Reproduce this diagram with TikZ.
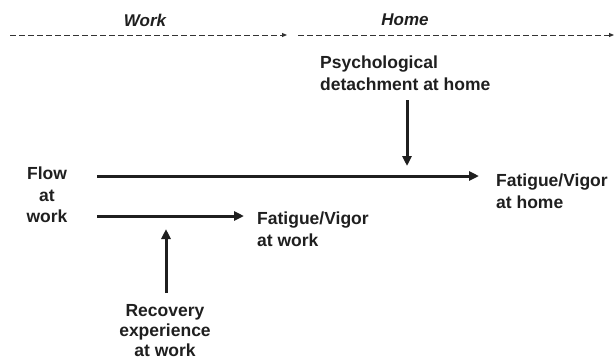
\documentclass[tikz,border=0pt]{standalone}
\usepackage{fontspec}
\setmainfont{Liberation Sans}
\usetikzlibrary{arrows.meta}
\begin{document}
\begin{tikzpicture}[x=1pt,y=-1pt,
  lbl/.style={font=\bfseries\fontsize{17.5}{21.5}\selectfont, inner sep=0pt, text=black!88},
  hdr/.style={font=\bfseries\itshape\fontsize{17}{19}\selectfont, inner sep=0pt, text=black!88},
  strong/.style={line width=3pt, draw=black!88, -{Triangle[length=10pt,width=9pt]}},
  dashline/.style={line width=1pt, draw=black!80, dash pattern=on 5.5pt off 3.5pt, -{Triangle[length=5pt,width=4pt]}}]
\useasboundingbox (0,0) rectangle (614,362);
% header
\node[hdr] (work) at (145,20) {Work};
\node[hdr] (home) at (405,20) {Home};
\coordinate (d1a) at (10,35);
\coordinate (d1b) at (287,35);
\coordinate (d2a) at (298,35);
\coordinate (d2b) at (614,35);
\draw[dashline] (d1a) -- (d1b);
\draw[dashline] (d2a) -- (d2b);
% nodes
\node[lbl, align=left, anchor=west] (psych) at (320,73) {Psychological\\detachment at home};
\node[lbl, align=left, anchor=west] (fvhome) at (496,191) {Fatigue/Vigor\\at home};
\node[lbl, align=center] (flow) at (47,195) {Flow\\at\\work};
\node[lbl, align=left, anchor=west] (fvwork) at (257,229) {Fatigue/Vigor\\at work};
\node[lbl, align=center, font=\bfseries\fontsize{17.5}{20}\selectfont] (recov) at (165,331) {Recovery\\experience\\at work};
% connectors
\coordinate (la) at (97,176);
\coordinate (lb) at (479,176);
\coordinate (sa) at (97,216);
\coordinate (sb) at (244,216);
\coordinate (pa) at (407,100);
\coordinate (pb) at (407,166);
\coordinate (ra) at (166,293);
\coordinate (rb) at (166,229);
\draw[strong] (la) -- (lb);
\draw[strong] (sa) -- (sb);
\draw[strong] (pa) -- (pb);
\draw[strong] (ra) -- (rb);
\end{tikzpicture}
\end{document}
